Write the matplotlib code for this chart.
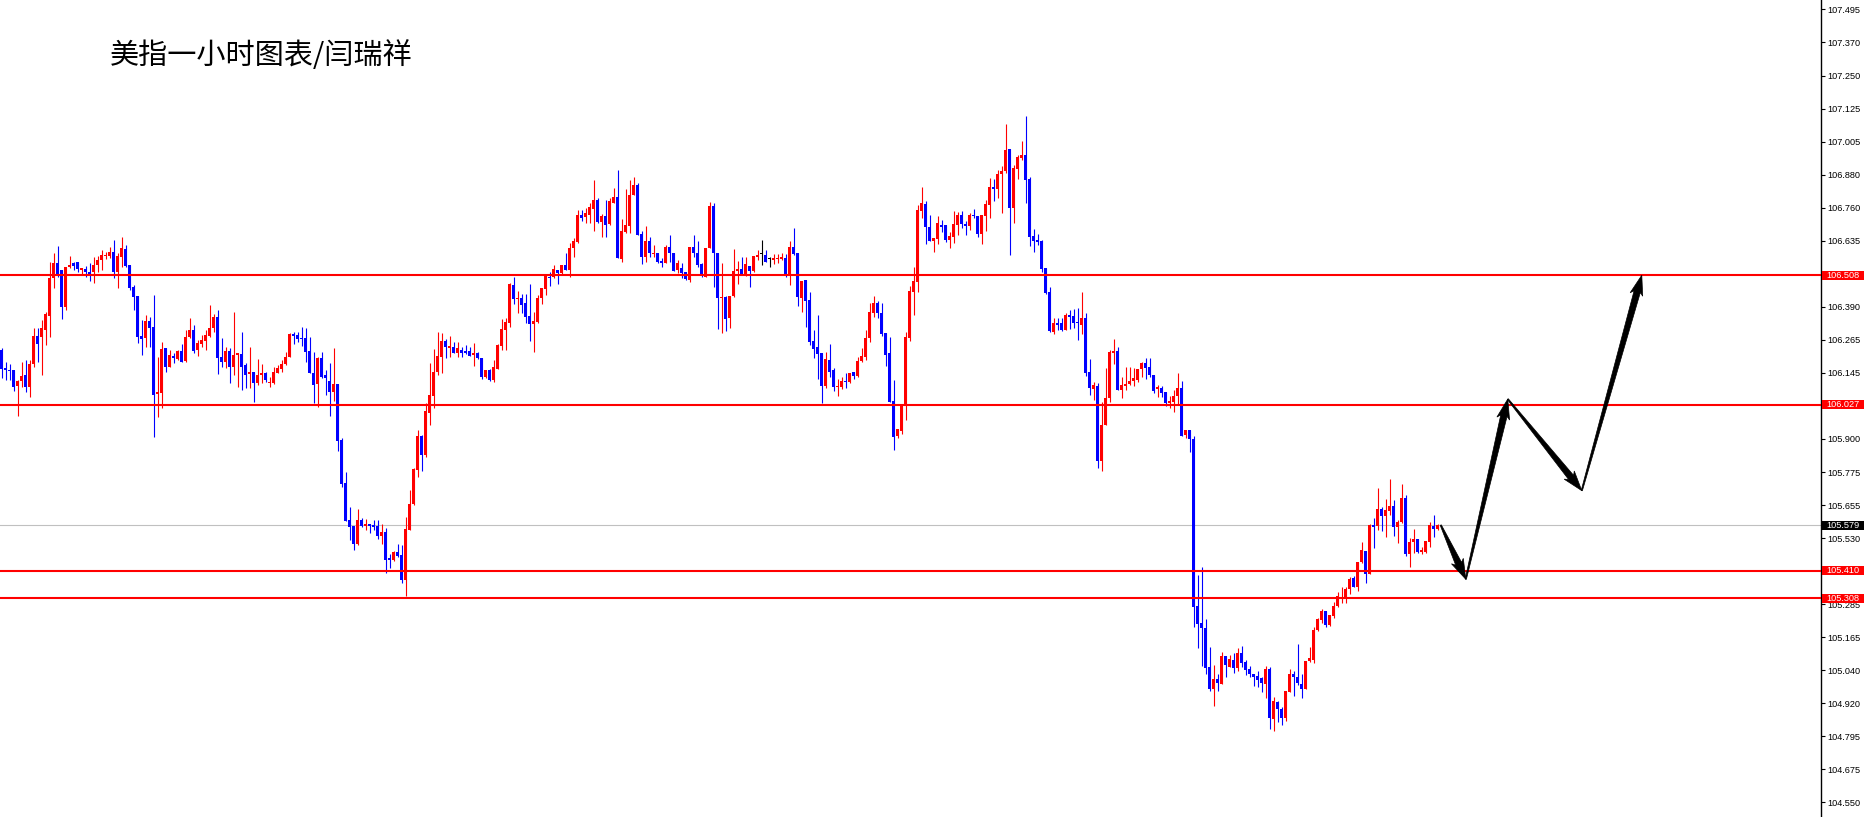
"""
美指一小时图表 — hourly candles, key levels and projected path.
"""

import matplotlib
matplotlib.use("Agg")
import matplotlib.pyplot as plt
import numpy as np
from matplotlib.patches import Polygon, Rectangle

TITLE = "美指一小时图表/闫瑞祥"

# ── hourly OHLC, oldest first ─────────────────────────────────────
OPEN = [
    106.230, 106.163, 106.156, 106.156, 106.097, 106.115, 106.137, 106.093, 106.178, 106.282,
    106.278, 106.304, 106.356, 106.497, 106.553, 106.527, 106.390, 106.538, 106.553, 106.557,
    106.527, 106.531, 106.520, 106.520, 106.546, 106.564, 106.579, 106.579, 106.594, 106.520,
    106.575, 106.605, 106.546, 106.464, 106.431, 106.282, 106.275, 106.338, 106.316, 106.067,
    106.070, 106.237, 106.167, 106.208, 106.197, 106.226, 106.189, 106.278, 106.304, 106.230,
    106.252, 106.263, 106.282, 106.312, 106.353, 106.204, 106.186, 106.226, 106.167, 106.211,
    106.215, 106.174, 106.141, 106.148, 106.108, 106.137, 106.145, 106.108, 106.108, 106.145,
    106.160, 106.178, 106.204, 106.290, 106.286, 106.275, 106.275, 106.226, 106.145, 106.104,
    106.200, 106.137, 106.115, 106.074, 106.104, 105.896, 105.736, 105.599, 105.577, 105.510,
    105.599, 105.577, 105.584, 105.580, 105.577, 105.539, 105.554, 105.458, 105.450, 105.480,
    105.469, 105.376, 105.562, 105.658, 105.784, 105.911, 105.840, 105.996, 106.059, 106.148,
    106.204, 106.263, 106.237, 106.241, 106.219, 106.230, 106.226, 106.226, 106.211, 106.219,
    106.200, 106.130, 106.156, 106.119, 106.160, 106.245, 106.304, 106.330, 106.471, 106.419,
    106.423, 106.405, 106.356, 106.327, 106.334, 106.423, 106.456, 106.501, 106.501, 106.527,
    106.516, 106.546, 106.527, 106.609, 106.631, 106.732, 106.724, 106.732, 106.754, 106.787,
    106.706, 106.728, 106.698, 106.776, 106.798, 106.568, 106.668, 106.691, 106.806, 106.843,
    106.661, 106.575, 106.635, 106.587, 106.590, 106.561, 106.553, 106.613, 106.590, 106.527,
    106.535, 106.520, 106.490, 106.613, 106.590, 106.550, 106.501, 106.609, 106.765, 106.590,
    106.423, 106.427, 106.349, 106.431, 106.524, 106.531, 106.512, 106.542, 106.524, 106.575,
    106.587, 106.583, 106.568, 106.564, 106.568, 106.568, 106.572, 106.509, 106.613, 106.590,
    106.423, 106.490, 106.416, 106.263, 106.241, 106.219, 106.096, 106.193, 106.156, 106.093,
    106.093, 106.115, 106.111, 106.148, 106.134, 106.189, 106.204, 106.275, 106.367, 106.405,
    106.367, 106.293, 106.219, 106.041, 105.911, 105.929, 106.022, 106.275, 106.445, 106.483,
    106.746, 106.772, 106.687, 106.635, 106.642, 106.694, 106.694, 106.639, 106.650, 106.694,
    106.732, 106.698, 106.691, 106.732, 106.728, 106.661, 106.728, 106.769, 106.835, 106.828,
    106.884, 106.895, 106.977, 106.757, 106.902, 106.943, 106.954, 106.865, 106.653, 106.639,
    106.635, 106.535, 106.445, 106.297, 106.330, 106.330, 106.304, 106.360, 106.356, 106.334,
    106.323, 106.349, 106.148, 106.085, 106.097, 105.818, 105.952, 106.052, 106.219, 106.226,
    106.082, 106.097, 106.104, 106.115, 106.119, 106.160, 106.182, 106.167, 106.137, 106.085,
    106.089, 106.074, 106.033, 106.037, 106.059, 106.089, 105.914, 105.933, 105.900, 105.279,
    105.216, 105.198, 105.053, 104.971, 105.008, 104.990, 105.094, 105.053, 105.079, 105.049,
    105.105, 105.072, 105.045, 105.027, 105.019, 105.012, 104.990, 105.045, 104.860, 104.923,
    104.897, 104.863, 104.960, 105.027, 105.016, 104.990, 104.971, 105.075, 105.079, 105.190,
    105.227, 105.261, 105.209, 105.242, 105.279, 105.306, 105.306, 105.343, 105.383, 105.350,
    105.443, 105.484, 105.398, 105.580, 105.577, 105.640, 105.614, 105.632, 105.651, 105.573,
    105.591, 105.680, 105.472, 105.517, 105.528, 105.480, 105.480, 105.517, 105.577, 105.565,
]
HIGH = [
    106.237, 106.186, 106.178, 106.156, 106.119, 106.186, 106.193, 106.193, 106.312, 106.312,
    106.342, 106.371, 106.557, 106.590, 106.616, 106.527, 106.538, 106.579, 106.557, 106.557,
    106.535, 106.542, 106.553, 106.575, 106.579, 106.602, 106.594, 106.613, 106.639, 106.590,
    106.650, 106.620, 106.546, 106.471, 106.431, 106.342, 106.360, 106.353, 106.434, 106.204,
    106.260, 106.237, 106.230, 106.219, 106.230, 106.252, 106.304, 106.349, 106.323, 106.267,
    106.286, 106.304, 106.397, 106.364, 106.379, 106.275, 106.241, 106.237, 106.371, 106.219,
    106.297, 106.182, 106.241, 106.148, 106.197, 106.178, 106.148, 106.130, 106.167, 106.174,
    106.193, 106.223, 106.293, 106.297, 106.297, 106.316, 106.312, 106.278, 106.223, 106.204,
    106.223, 106.156, 106.182, 106.237, 106.104, 105.903, 105.777, 105.647, 105.577, 105.640,
    105.606, 105.602, 105.584, 105.599, 105.599, 105.584, 105.569, 105.472, 105.484, 105.510,
    105.506, 105.610, 105.710, 105.792, 105.933, 105.914, 106.033, 106.182, 106.234, 106.297,
    106.293, 106.271, 106.282, 106.260, 106.260, 106.241, 106.249, 106.241, 106.256, 106.223,
    106.200, 106.156, 106.160, 106.193, 106.252, 106.345, 106.349, 106.479, 106.501, 106.449,
    106.438, 106.438, 106.475, 106.371, 106.434, 106.460, 106.509, 106.520, 106.546, 106.527,
    106.546, 106.590, 106.628, 106.646, 106.750, 106.750, 106.757, 106.776, 106.861, 106.795,
    106.735, 106.787, 106.795, 106.832, 106.899, 106.717, 106.828, 106.861, 106.873, 106.850,
    106.672, 106.691, 106.650, 106.620, 106.590, 106.572, 106.620, 106.657, 106.590, 106.564,
    106.553, 106.520, 106.613, 106.657, 106.635, 106.553, 106.609, 106.780, 106.776, 106.590,
    106.553, 106.431, 106.431, 106.605, 106.561, 106.575, 106.575, 106.542, 106.579, 106.602,
    106.639, 106.602, 106.575, 106.587, 106.587, 106.590, 106.587, 106.635, 106.683, 106.590,
    106.486, 106.490, 106.445, 106.304, 106.360, 106.219, 106.223, 106.252, 106.163, 106.122,
    106.130, 106.145, 106.145, 106.148, 106.204, 106.237, 106.304, 106.405, 106.431, 106.412,
    106.405, 106.293, 106.278, 106.119, 105.937, 106.022, 106.297, 106.468, 106.538, 106.769,
    106.835, 106.783, 106.732, 106.646, 106.728, 106.713, 106.694, 106.668, 106.746, 106.743,
    106.746, 106.709, 106.739, 106.754, 106.728, 106.732, 106.787, 106.869, 106.865, 106.899,
    106.913, 107.069, 106.977, 106.917, 106.954, 107.006, 107.099, 106.873, 106.680, 106.661,
    106.639, 106.535, 106.464, 106.349, 106.349, 106.349, 106.367, 106.379, 106.382, 106.386,
    106.445, 106.367, 106.197, 106.111, 106.108, 106.037, 106.163, 106.230, 106.271, 106.241,
    106.130, 106.167, 106.167, 106.163, 106.160, 106.186, 106.200, 106.200, 106.137, 106.100,
    106.097, 106.074, 106.059, 106.082, 106.145, 106.115, 105.933, 105.933, 105.911, 105.395,
    105.424, 105.231, 105.127, 105.060, 105.027, 105.109, 105.094, 105.098, 105.105, 105.124,
    105.131, 105.079, 105.057, 105.027, 105.038, 105.016, 105.057, 105.053, 104.941, 104.927,
    104.904, 104.964, 105.045, 105.038, 105.138, 105.027, 105.075, 105.127, 105.201, 105.235,
    105.268, 105.261, 105.246, 105.294, 105.332, 105.350, 105.350, 105.387, 105.391, 105.443,
    105.517, 105.484, 105.584, 105.606, 105.718, 105.647, 105.677, 105.751, 105.673, 105.599,
    105.732, 105.692, 105.532, 105.565, 105.528, 105.498, 105.521, 105.591, 105.617, 105.584,
]
LOW = [
    106.126, 106.119, 106.119, 106.078, 105.985, 106.093, 106.074, 106.056, 106.167, 106.186,
    106.137, 106.249, 106.278, 106.460, 106.501, 106.345, 106.379, 106.535, 106.527, 106.520,
    106.509, 106.501, 106.486, 106.479, 106.520, 106.527, 106.568, 106.572, 106.497, 106.460,
    106.538, 106.538, 106.453, 106.379, 106.256, 106.211, 106.241, 106.241, 105.907, 105.981,
    106.015, 106.148, 106.167, 106.182, 106.193, 106.186, 106.186, 106.275, 106.219, 106.208,
    106.241, 106.230, 106.278, 106.297, 106.141, 106.167, 106.163, 106.108, 106.137, 106.093,
    106.082, 106.089, 106.089, 106.037, 106.100, 106.108, 106.111, 106.093, 106.104, 106.145,
    106.148, 106.174, 106.204, 106.252, 106.260, 106.245, 106.186, 106.145, 106.033, 106.018,
    106.126, 106.063, 105.985, 106.041, 105.855, 105.721, 105.595, 105.524, 105.487, 105.506,
    105.573, 105.562, 105.550, 105.562, 105.528, 105.510, 105.402, 105.420, 105.446, 105.461,
    105.365, 105.317, 105.562, 105.654, 105.758, 105.781, 105.833, 105.952, 106.015, 106.137,
    106.145, 106.200, 106.204, 106.219, 106.204, 106.204, 106.215, 106.208, 106.171, 106.197,
    106.122, 106.126, 106.115, 106.111, 106.160, 106.230, 106.230, 106.316, 106.401, 106.367,
    106.367, 106.330, 106.263, 106.223, 106.330, 106.401, 106.434, 106.468, 106.497, 106.475,
    106.509, 106.527, 106.501, 106.575, 106.628, 106.709, 106.702, 106.702, 106.672, 106.702,
    106.650, 106.650, 106.694, 106.776, 106.572, 106.557, 106.665, 106.665, 106.806, 106.657,
    106.549, 106.557, 106.575, 106.575, 106.553, 106.538, 106.553, 106.557, 106.524, 106.516,
    106.497, 106.490, 106.483, 106.575, 106.538, 106.501, 106.501, 106.609, 106.464, 106.308,
    106.293, 106.301, 106.312, 106.427, 106.475, 106.512, 106.505, 106.464, 106.520, 106.564,
    106.546, 106.557, 106.538, 106.550, 106.553, 106.564, 106.501, 106.471, 106.583, 106.393,
    106.371, 106.316, 106.249, 106.200, 106.122, 106.033, 106.089, 106.130, 106.078, 106.059,
    106.085, 106.089, 106.108, 106.122, 106.130, 106.186, 106.193, 106.260, 106.353, 106.349,
    106.282, 106.171, 106.037, 105.859, 105.903, 105.918, 105.970, 106.263, 106.360, 106.445,
    106.720, 106.624, 106.635, 106.594, 106.624, 106.668, 106.631, 106.609, 106.628, 106.657,
    106.683, 106.657, 106.676, 106.720, 106.650, 106.624, 106.672, 106.720, 106.783, 106.795,
    106.739, 106.887, 106.583, 106.702, 106.865, 106.936, 106.776, 106.616, 106.594, 106.620,
    106.520, 106.438, 106.297, 106.290, 106.304, 106.301, 106.304, 106.308, 106.312, 106.267,
    106.290, 106.134, 106.063, 106.044, 105.792, 105.781, 105.952, 106.037, 106.178, 106.082,
    106.052, 106.082, 106.100, 106.097, 106.111, 106.130, 106.122, 106.130, 106.070, 106.056,
    106.056, 106.022, 106.015, 106.000, 106.026, 105.911, 105.903, 105.851, 105.201, 105.123,
    105.057, 105.027, 104.964, 104.908, 104.964, 104.990, 105.016, 105.053, 105.031, 105.038,
    105.053, 105.023, 105.016, 104.982, 104.978, 104.960, 104.938, 104.822, 104.815, 104.849,
    104.837, 104.852, 104.960, 104.945, 104.986, 104.938, 104.971, 105.072, 105.068, 105.186,
    105.216, 105.201, 105.205, 105.235, 105.276, 105.291, 105.291, 105.324, 105.350, 105.335,
    105.439, 105.365, 105.398, 105.495, 105.562, 105.558, 105.536, 105.617, 105.539, 105.513,
    105.588, 105.465, 105.424, 105.476, 105.476, 105.472, 105.476, 105.498, 105.536, 105.562,
]
CLOSE = [
    106.160, 106.156, 106.152, 106.093, 106.115, 106.134, 106.093, 106.178, 106.282, 106.252,
    106.312, 106.364, 106.497, 106.553, 106.512, 106.390, 106.538, 106.546, 106.542, 106.531,
    106.535, 106.520, 106.512, 106.546, 106.564, 106.583, 106.583, 106.594, 106.520, 106.579,
    106.609, 106.542, 106.460, 106.427, 106.278, 106.271, 106.338, 106.312, 106.063, 106.074,
    106.234, 106.167, 106.211, 106.200, 106.226, 106.186, 106.278, 106.304, 106.226, 106.256,
    106.267, 106.286, 106.312, 106.353, 106.200, 106.186, 106.226, 106.167, 106.211, 106.219,
    106.167, 106.137, 106.148, 106.108, 106.137, 106.145, 106.119, 106.111, 106.148, 106.163,
    106.178, 106.204, 106.290, 106.282, 106.271, 106.271, 106.223, 106.145, 106.100, 106.200,
    106.130, 106.126, 106.074, 106.104, 105.892, 105.732, 105.595, 105.573, 105.510, 105.599,
    105.577, 105.584, 105.577, 105.573, 105.539, 105.554, 105.450, 105.450, 105.480, 105.465,
    105.376, 105.565, 105.658, 105.788, 105.911, 105.840, 106.004, 106.063, 106.148, 106.208,
    106.263, 106.241, 106.245, 106.219, 106.237, 106.219, 106.219, 106.208, 106.219, 106.200,
    106.130, 106.156, 106.119, 106.167, 106.249, 106.308, 106.334, 106.475, 106.419, 106.423,
    106.397, 106.353, 106.327, 106.338, 106.423, 106.460, 106.509, 106.497, 106.531, 106.516,
    106.546, 106.527, 106.609, 106.635, 106.732, 106.720, 106.739, 106.761, 106.787, 106.706,
    106.728, 106.694, 106.783, 106.798, 106.572, 106.672, 106.694, 106.806, 106.843, 106.657,
    106.575, 106.635, 106.590, 106.590, 106.557, 106.553, 106.613, 106.590, 106.524, 106.553,
    106.516, 106.494, 106.613, 106.590, 106.546, 106.509, 106.609, 106.765, 106.590, 106.423,
    106.427, 106.345, 106.431, 106.524, 106.531, 106.512, 106.550, 106.524, 106.579, 106.583,
    106.587, 106.557, 106.568, 106.572, 106.572, 106.575, 106.509, 106.613, 106.587, 106.427,
    106.486, 106.412, 106.260, 106.234, 106.215, 106.096, 106.197, 106.148, 106.093, 106.097,
    106.115, 106.111, 106.145, 106.134, 106.189, 106.208, 106.275, 106.371, 106.405, 106.367,
    106.290, 106.211, 106.037, 105.907, 105.937, 106.022, 106.278, 106.449, 106.486, 106.750,
    106.776, 106.687, 106.635, 106.646, 106.702, 106.687, 106.639, 106.653, 106.698, 106.732,
    106.698, 106.691, 106.732, 106.728, 106.661, 106.732, 106.772, 106.835, 106.828, 106.884,
    106.895, 106.973, 106.757, 106.906, 106.947, 106.954, 106.861, 106.650, 106.635, 106.631,
    106.531, 106.442, 106.301, 106.330, 106.323, 106.304, 106.360, 106.353, 106.330, 106.330,
    106.349, 106.145, 106.089, 106.100, 105.818, 105.952, 106.052, 106.223, 106.226, 106.082,
    106.100, 106.104, 106.115, 106.126, 106.160, 106.182, 106.163, 106.137, 106.078, 106.093,
    106.070, 106.033, 106.041, 106.059, 106.089, 105.911, 105.933, 105.900, 105.276, 105.213,
    105.198, 105.049, 104.971, 105.008, 104.993, 105.094, 105.060, 105.083, 105.049, 105.105,
    105.068, 105.042, 105.027, 105.016, 105.004, 104.993, 105.045, 104.863, 104.927, 104.897,
    104.863, 104.964, 105.027, 105.016, 104.993, 104.971, 105.075, 105.086, 105.190, 105.231,
    105.261, 105.209, 105.246, 105.279, 105.317, 105.309, 105.343, 105.380, 105.350, 105.443,
    105.487, 105.398, 105.580, 105.573, 105.640, 105.614, 105.636, 105.651, 105.573, 105.591,
    105.680, 105.472, 105.517, 105.528, 105.480, 105.487, 105.521, 105.580, 105.565, 105.579,
]

# ── horizontal levels and last price ──────────────────────────────
LEVELS = [106.508, 106.027, 105.410, 105.308]
LAST_PRICE = 105.579

# ── price scale ───────────────────────────────────────────────────
TICK_LABELS = [
    "104.550", "104.675", "104.795", "104.920", "105.040", "105.165", "105.285",
    "105.410", "105.530", "105.655", "105.775", "105.900", "106.020", "106.145",
    "106.265", "106.390", "106.515", "106.635", "106.760", "106.880", "107.005",
    "107.125", "107.250", "107.370", "107.495",
]
# labels fully covered by the level boxes in the source chart
HIDDEN_LABELS = {"105.410", "106.515"}
Y_MIN, Y_MAX = 104.496, 107.530

# ── projected path (bar index, price) ─────────────────────────────
PATH_X = [359.75, 366.0, 376.5, 395.0, 410.0]
PATH_Y = [105.580, 105.379, 106.048, 105.708, 106.508]

UP, DOWN, FLAT = "#ff0000", "#0000ff", "#000000"
AXIS_FONT = "Liberation Sans"


def wedge_arrow(ax, p0, p1, body=6.5, head_w=13.0, head_l=17.0):
    """Tapered arrow, thin at the tail, drawn in pixel space."""
    a, b = ax.transData.transform([p0, p1])
    d = b - a
    u = d / np.hypot(*d)
    n = np.array([-u[1], u[0]])
    base = b - u * head_l
    barb = base - u * 3.0
    pts = [
        a + n * 0.6,
        base + n * body / 2,
        barb + n * head_w / 2,
        b,
        barb - n * head_w / 2,
        base - n * body / 2,
        a - n * 0.6,
    ]
    pts = ax.transData.inverted().transform(pts)
    ax.add_patch(Polygon(pts, closed=True, facecolor="black", edgecolor="black",
                         lw=0.5, zorder=6))


def price_box(ax, price, text, color):
    h = 0.034
    ax.add_patch(Rectangle((1.0005, price - h / 2), 0.0235, h, transform=ax.get_yaxis_transform(),
                           facecolor=color, edgecolor="none", clip_on=False, zorder=5))
    ax.text(1.0122, price, text, transform=ax.get_yaxis_transform(), color="white",
            fontsize=6.6, family=AXIS_FONT, ha="center", va="center", clip_on=False, zorder=6)


def main():
    o = np.array(OPEN)
    h = np.array(HIGH)
    l = np.array(LOW)
    c = np.array(CLOSE)
    x = np.arange(len(o))
    cols = np.where(c > o, UP, np.where(c < o, DOWN, FLAT))

    fig = plt.figure(figsize=(18.64, 8.17), dpi=100)
    ax = fig.add_axes([0, 0, 1821 / 1864, 1])
    ax.set_xlim(-0.425, 454.8)
    ax.set_ylim(Y_MIN, Y_MAX)

    # levels
    ax.axhline(LAST_PRICE, color="#c0c0c0", lw=0.8, zorder=1)
    for lv in LEVELS:
        ax.axhline(lv, color="#ff0000", lw=1.5, zorder=4)

    # candles
    ax.vlines(x, l, h, colors=cols, lw=0.8, zorder=2)
    bottoms = np.minimum(o, c)
    heights = np.maximum(np.abs(c - o), 0.0045)
    ax.bar(x, heights, bottom=bottoms, width=0.75, color=cols, lw=0, zorder=3)

    # projected path
    for i in range(len(PATH_X) - 1):
        wedge_arrow(ax, (PATH_X[i], PATH_Y[i]), (PATH_X[i + 1], PATH_Y[i + 1]))

    # axis styling
    for side in ("top", "left", "bottom"):
        ax.spines[side].set_visible(False)
    ax.spines["right"].set_color("black")
    ax.spines["right"].set_linewidth(1.0)
    ax.set_xticks([])
    ax.yaxis.tick_right()
    ax.set_yticks(np.linspace(104.550, 107.495, len(TICK_LABELS)))
    ax.set_yticklabels(["" if t in HIDDEN_LABELS else t for t in TICK_LABELS])
    ax.tick_params(axis="y", length=3, width=0.8, pad=1.5, labelsize=6.6, colors="black")
    for lab in ax.get_yticklabels():
        lab.set_family(AXIS_FONT)

    for lv in LEVELS:
        price_box(ax, lv, f"{lv:.3f}", "#ff0000")
    price_box(ax, LAST_PRICE, f"{LAST_PRICE:.3f}", "#000000")

    fig.text(110 / 1864, 1 - 56 / 817, TITLE, fontsize=21, ha="left", va="center",
             family=["Noto Sans CJK SC", "DejaVu Sans"])

    fig.savefig("out.png", dpi=100)
    plt.close(fig)


if __name__ == "__main__":
    main()
